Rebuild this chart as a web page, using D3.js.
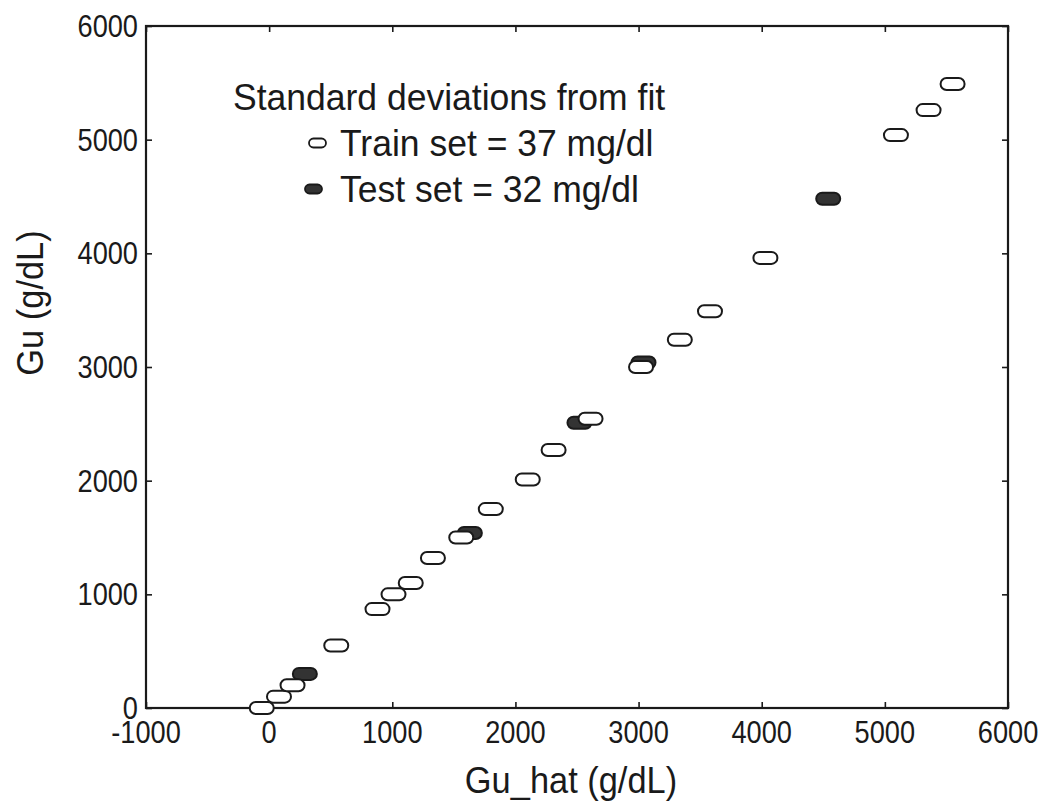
<!DOCTYPE html>
<html>
<head>
<meta charset="utf-8">
<script src="https://cdn.jsdelivr.net/npm/d3@7"></script>
<style>
  body { margin: 0; background: #fff; }
  text { font-family: 'Liberation Sans', Arial, sans-serif; fill: #1a1a1a; }
</style>
</head>
<body>
<script>
// values
var trainX = [-60, 80, 190, 545, 880, 1010, 1150, 1330, 1560, 1800, 2100, 2310, 2610, 3020, 3335, 3580, 4030, 5090, 5355, 5550];
var trainY = [0, 100, 200, 550, 870, 1000, 1100, 1320, 1500, 1750, 2010, 2270, 2545, 3000, 3240, 3490, 3960, 5040, 5260, 5490];
var testX = [290, 1630, 2520, 3040, 4540];
var testY = [300, 1540, 2510, 3040, 4480];
var xTicks = [-1000, 0, 1000, 2000, 3000, 4000, 5000, 6000];
var yTicks = [0, 1000, 2000, 3000, 4000, 5000, 6000];
var legendTitle = 'Standard deviations from fit';
var legendLabels = ['Train set = 37 mg/dl', 'Test set = 32 mg/dl'];

var width = 1047,
  height = 806,
  mLeft = 146,
  mRight = 1008,
  mTop = 26,
  mBottom = 708;

var svg = d3.select('body').append('svg').attr('width', width).attr('height', height);

var x = d3.scaleLinear().domain([-1000, 6000]).range([mLeft, mRight]);
var y = d3.scaleLinear().domain([0, 6000]).range([mBottom, mTop]);

var tickLen = 6;
var ink = '#1a1a1a';

// narrow-ish text: the original uses a condensed face, squeeze horizontally
function label(px, py, str, size, sx, anchor, rot) {
  return svg.append('text')
    .attr('transform', 'translate(' + px + ',' + py + ')' + (rot ? 'rotate(' + rot + ')' : '') + 'scale(' + sx + ',1)')
    .attr('text-anchor', anchor || 'start')
    .style('font-size', size + 'px')
    .text(str);
}

// ticks on all four sides, pointing inwards
svg.append('g').attr('transform', 'translate(0,' + mBottom + ')')
  .call(d3.axisBottom(x).tickValues(xTicks).tickSize(-tickLen).tickFormat(''))
  .call(function(g) { g.select('.domain').remove(); });
svg.append('g').attr('transform', 'translate(0,' + mTop + ')')
  .call(d3.axisTop(x).tickValues(xTicks).tickSize(-tickLen).tickFormat(''))
  .call(function(g) { g.select('.domain').remove(); });
svg.append('g').attr('transform', 'translate(' + mLeft + ',0)')
  .call(d3.axisLeft(y).tickValues(yTicks).tickSize(-tickLen).tickFormat(''))
  .call(function(g) { g.select('.domain').remove(); });
svg.append('g').attr('transform', 'translate(' + mRight + ',0)')
  .call(d3.axisRight(y).tickValues(yTicks).tickSize(-tickLen).tickFormat(''))
  .call(function(g) { g.select('.domain').remove(); });
svg.selectAll('.tick line').attr('stroke', ink).attr('stroke-width', 1.6);

svg.append('rect')
  .attr('x', mLeft).attr('y', mTop)
  .attr('width', mRight - mLeft).attr('height', mBottom - mTop)
  .attr('fill', 'none').attr('stroke', ink).attr('stroke-width', 2.2);

// tick labels
xTicks.forEach(function(d) {
  label(x(d), 743, d, 32, 0.85, 'middle');
});
yTicks.forEach(function(d) {
  label(138, y(d) + 11, d, 32, 0.85, 'end');
});

label(571, 793, 'Gu_hat (g/dL)', 37, 0.93, 'middle');
label(43, 303, 'Gu (g/dL)', 37, 0.93, 'middle', -90);

// markers
var mw = 24, mh = 12;
function drawMarkers(xs, ys, filled) {
  svg.append('g').selectAll('rect').data(xs).enter().append('rect')
    .attr('x', function(d) { return x(d) - mw / 2; })
    .attr('y', function(d, i) { return y(ys[i]) - mh / 2; })
    .attr('width', mw).attr('height', mh)
    .attr('rx', mh / 2)
    .attr('fill', filled ? '#333' : '#fff')
    .attr('stroke', ink)
    .attr('stroke-width', 2);
}
drawMarkers(testX, testY, true);
drawMarkers(trainX, trainY, false);

// legend
label(233, 110, legendTitle, 37, 0.96);

var legY = [143, 189];
legendLabels.forEach(function(lab, i) {
  svg.append('rect')
    .attr('x', 309 + (i ? -4 : 0)).attr('y', legY[i] - 4.5)
    .attr('width', 17).attr('height', 9)
    .attr('rx', 4.5)
    .attr('fill', i ? '#333' : '#fff')
    .attr('stroke', ink).attr('stroke-width', 1.8);
  label(340, legY[i] + 13, lab, 37, 0.96);
});
</script>
</body>
</html>
